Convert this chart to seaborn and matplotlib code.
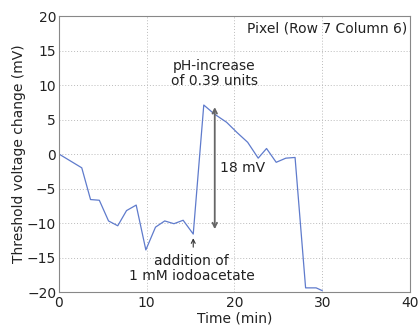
import matplotlib
matplotlib.use("Agg")
import matplotlib.pyplot as plt
import seaborn as sns
import pandas as pd

time_min = [0.0, 2.6, 3.6, 4.6, 5.65, 6.7, 7.7, 8.8, 9.9, 11.0, 12.05, 13.1, 14.15, 15.3,
            16.5, 17.7, 19.1, 20.3, 21.5, 22.7, 23.65, 24.75, 25.85, 26.9, 28.1, 29.3, 30.0]
voltage_mv = [0.0, -2.0, -6.6, -6.7, -9.7, -10.4, -8.2, -7.4, -13.9, -10.6, -9.7, -10.1, -9.6, -11.6,
              7.1, 5.8, 4.6, 3.1, 1.7, -0.6, 0.8, -1.2, -0.6, -0.5, -19.4, -19.4, -19.8]
x_ticks = [0, 10, 20, 30, 40]
y_ticks = [-20, -15, -10, -5, 0, 5, 10, 15, 20]

df = pd.DataFrame({"Time (min)": time_min, "Threshold voltage change (mV)": voltage_mv})

sns.set_style("white")
plt.rcParams["font.family"] = ["DejaVu Sans"]
fs = 10

fig = plt.figure(figsize=(4.18, 3.27), dpi=100)
ax = fig.add_axes([0.141, 0.107, 0.840, 0.844])
sns.lineplot(data=df, x="Time (min)", y="Threshold voltage change (mV)", ax=ax,
             color="#5f7bcc", linewidth=0.9)

ax.set_xlim(0, 40)
ax.set_ylim(-20, 20)
ax.set_xticks(x_ticks)
ax.set_yticks(y_ticks)
ax.set_xticklabels([str(t) for t in x_ticks], fontsize=fs, color="#222222")
ax.set_yticklabels([str(t).replace("-", "\u2212") for t in y_ticks], fontsize=fs, color="#222222")
ax.tick_params(direction="in", length=3, color="#888888", width=0.8, pad=2)
ax.tick_params(axis="x", pad=3)
ax.grid(True, linestyle=(0, (1, 2)), color="#bbbbbb", linewidth=0.7)
for s in ax.spines.values():
    s.set_color("#888888")
    s.set_linewidth(0.8)
ax.set_xlabel("Time (min)", fontsize=fs, labelpad=1, color="#222222")
ax.set_ylabel("Threshold voltage change (mV)", fontsize=fs, labelpad=1, color="#222222")

ax.text(39.7, 18.2, "Pixel (Row 7 Column 6)", ha="right", va="center", fontsize=fs, color="#222222")
ax.text(17.7, 11.7, "pH-increase\nof 0.39 units", ha="center", va="center", fontsize=fs,
        color="#222222", linespacing=1.05)
ax.annotate("", xy=(17.75, 7.2), xytext=(17.75, -11.3),
            arrowprops=dict(arrowstyle="<->", color="#666666", lw=1.3, mutation_scale=8))
ax.text(18.3, -2.0, "18 mV", ha="left", va="center", fontsize=fs, color="#222222")
ax.annotate("", xy=(15.3, -11.8), xytext=(15.3, -13.9),
            arrowprops=dict(arrowstyle="->", color="#333333", lw=0.8, mutation_scale=7))
ax.text(15.1, -16.6, "addition of\n1 mM iodoacetate", ha="center", va="center", fontsize=fs,
        color="#222222", linespacing=1.05)

fig.savefig("out.png", dpi=100, facecolor="white")
